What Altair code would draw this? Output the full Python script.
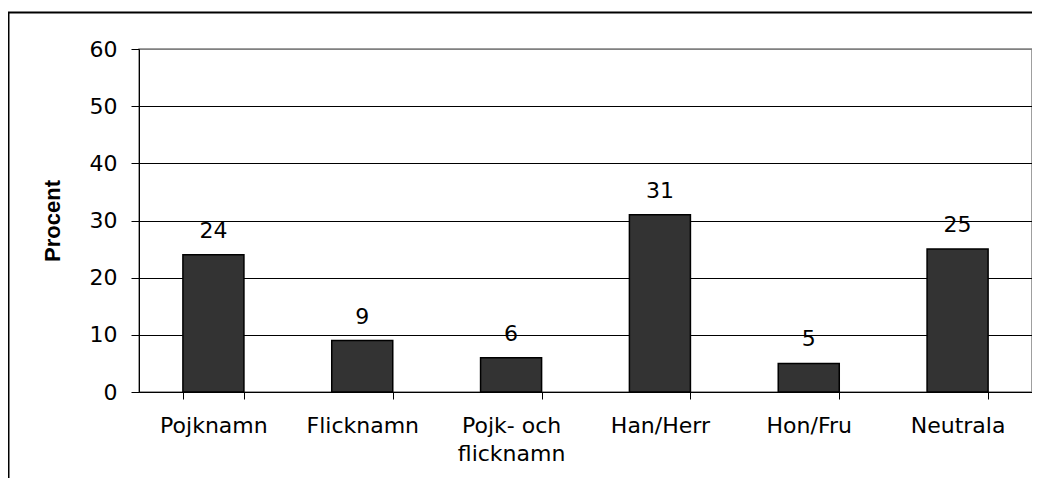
import altair as alt
import pandas as pd

categories = ["Pojknamn", "Flicknamn", "Pojk- och flicknamn", "Han/Herr", "Hon/Fru", "Neutrala"]
values = [24, 9, 6, 31, 5, 25]
y_ticks = [0, 10, 20, 30, 40, 50, 60]
y_title = "Procent"

df = pd.DataFrame({"Kategori": categories, "Procent": values})

W, H = 893, 343
FONT = "DejaVu Sans"
TFONT = "Liberation Sans"
FS = 22

x = alt.X(
    "Kategori:N",
    sort=categories,
    title=None,
    scale=alt.Scale(paddingInner=0.59, paddingOuter=0.295),
    axis=alt.Axis(
        labelAngle=0,
        labelFont=FONT,
        labelFontSize=FS,
        labelColor="black",
        labelPadding=16,
        labelLineHeight=28.5,
        labelLimit=300,
        tickBand="extent",
        tickSize=7,
        tickColor="black",
        tickWidth=1,
        domainColor="black",
        domainWidth=1,
        grid=False,
        labelExpr="datum.label == 'Pojk- och flicknamn' ? ['Pojk- och', 'flicknamn'] : datum.label",
    ),
)

y = alt.Y(
    "Procent:Q",
    scale=alt.Scale(domain=[0, 60], nice=False),
    axis=alt.Axis(
        values=y_ticks,
        title=y_title,
        titleFont=TFONT,
        titleFontSize=22,
        titleFontWeight="bold",
        titleColor="black",
        titleAngle=270,
        titleX=-75,
        titleY=H / 2,
        titleAlign="center",
        titleBaseline="bottom",
        labelFont=FONT,
        labelFontSize=FS,
        labelColor="black",
        labelPadding=14,
        tickSize=8,
        tickColor="black",
        tickWidth=1,
        domainColor="black",
        domainWidth=1,
        grid=True,
        gridColor={"condition": {"test": "datum.value === 60", "value": "#808080"}, "value": "black"},
        gridWidth=1,
        gridOpacity=1,
    ),
)

base = alt.Chart(df).encode(x=x, y=y)

bars = base.mark_bar(color="#333333", stroke="black", strokeWidth=1.5)
labels = base.mark_text(dy=-17, baseline="alphabetic", align="center", font=FONT, fontSize=FS, color="black").encode(
    text="Procent:Q"
)

frame = alt.Chart(pd.DataFrame({"f": [0]})).mark_rect(
    fillOpacity=0, stroke="black", strokeWidth=2
).encode(
    x=alt.value(-130.5), x2=alt.value(W + 60), y=alt.value(-36.5), y2=alt.value(H + 200)
)

chart = (
    alt.layer(frame, bars, labels)
    .properties(
        width=W,
        height=H,
        autosize=alt.AutoSizeParams(type="none"),
        padding={"left": 131, "top": 41, "right": 0, "bottom": 86},
        background="white",
    )
    .configure_view(stroke="#808080", strokeWidth=1.5)
)

chart.save("out.html", embed_options={"renderer": "svg", "actions": False})
